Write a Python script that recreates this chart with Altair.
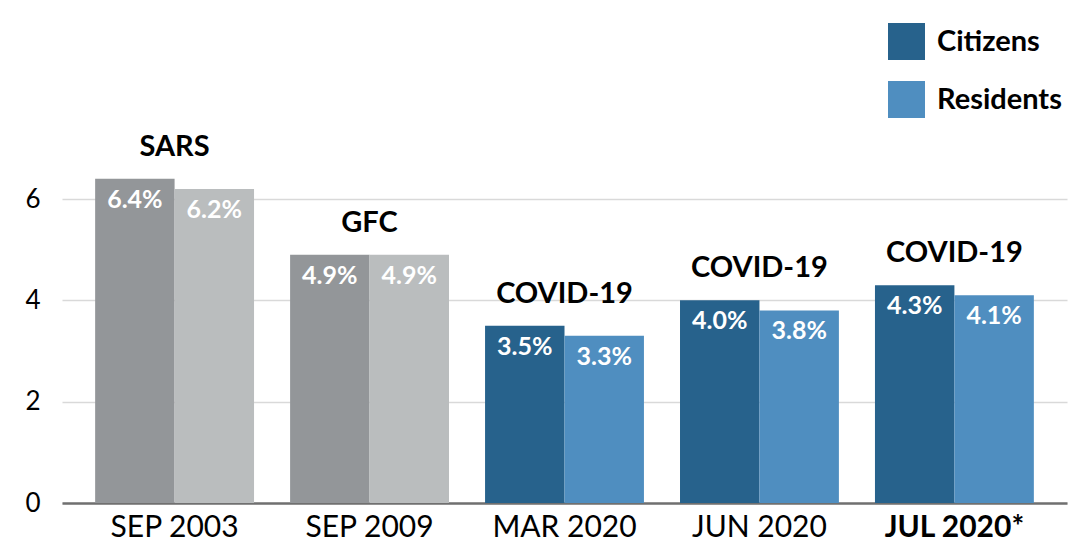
import altair as alt
import pandas as pd

periods = ["SEP 2003", "SEP 2009", "MAR 2020", "JUN 2020", "JUL 2020*"]
events = ["SARS", "GFC", "COVID-19", "COVID-19", "COVID-19"]
citizens = [6.4, 4.9, 3.5, 4.0, 4.3]
residents = [6.2, 4.9, 3.3, 3.8, 4.1]
historic = [True, True, False, False, False]

series_names = ["Citizens", "Residents"]
color_keys = ["Citizens", "Residents", "Citizens (past)", "Residents (past)"]
color_range = ["#27628c", "#4f8ec0", "#939699", "#babdbe"]

rows = []
for i, p in enumerate(periods):
    for s, vals in zip(series_names, [citizens, residents]):
        v = vals[i]
        rows.append({
            "period": p,
            "series": s,
            "value": v,
            "key": s + (" (past)" if historic[i] else ""),
            "label": f"{v:.1f}%",
        })
df = pd.DataFrame(rows)

ev = pd.DataFrame({
    "period": periods,
    "event": events,
    "top": [max(a, b) for a, b in zip(citizens, residents)],
})

FONT = "Lato"

x_enc = alt.X(
    "period:N",
    sort=periods,
    scale=alt.Scale(paddingInner=0.185, paddingOuter=0.17),
    axis=alt.Axis(
        title=None,
        labelAngle=0,
        ticks=False,
        labelFontSize=30,
        labelColor="#000000",
        labelPadding=9,
        labelFont=FONT,
        labelFontWeight=alt.expr("datum.value == 'JUL 2020*' ? 'bold' : 'normal'"),
        domainColor="#707070",
        domainWidth=2.5,
        grid=False,
    ),
)
y_scale = alt.Scale(domain=[0, 9.77], nice=False)
xoff = alt.XOffset("series:N", sort=series_names,
                   scale=alt.Scale(paddingInner=0, paddingOuter=0))

bars = alt.Chart(df).mark_bar().encode(
    x=x_enc,
    xOffset=xoff,
    y=alt.Y(
        "value:Q",
        scale=y_scale,
        axis=alt.Axis(
            title=None,
            values=[0, 2, 4, 6],
            ticks=False,
            domain=False,
            labelFontSize=26,
            labelColor="#000000",
            labelFont=FONT,
            labelPadding=22,
            gridColor="#d9d9d9",
            gridWidth=1.5,
        ),
    ),
    color=alt.Color(
        "key:N",
        scale=alt.Scale(domain=color_keys, range=color_range),
        legend=alt.Legend(
            title=None,
            values=series_names,
            orient="none",
            legendX=826,
            legendY=15,
            symbolType="square",
            symbolSize=1369,
            symbolStrokeWidth=0,
            symbolOpacity=1,
            labelFontSize=29,
            labelFontWeight="bold",
            labelFont=FONT,
            labelColor="#000000",
            labelOffset=12,
            rowPadding=21,
            padding=0,
        ),
    ),
)

pct = alt.Chart(df).mark_text(
    baseline="top", dy=9, color="white", fontWeight="bold", fontSize=25, font=FONT
).encode(
    x=alt.X("period:N", sort=periods),
    xOffset=alt.XOffset("series:N", sort=series_names),
    y=alt.Y("value:Q", scale=y_scale),
    text="label:N",
)

evt = alt.Chart(ev).mark_text(
    baseline="alphabetic", dy=-23, color="black", fontWeight="bold", fontSize=29, font=FONT
).encode(
    x=alt.X("period:N", sort=periods),
    y=alt.Y("top:Q", scale=y_scale),
    text="event:N",
)

chart = alt.layer(bars, pct, evt).properties(
    width=1005,
    height=495,
    autosize=alt.AutoSizeParams(type="none"),
    padding={"left": 54, "top": 0, "right": 4, "bottom": 39},
).configure_view(stroke=None)

chart.save("out.html", embed_options={"renderer": "svg", "actions": False})
